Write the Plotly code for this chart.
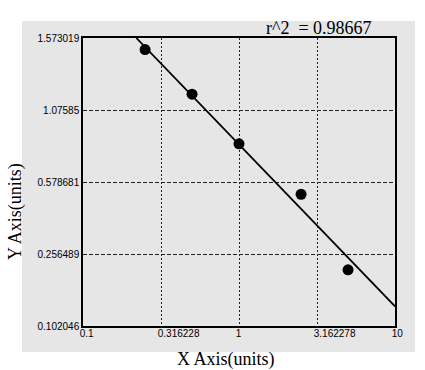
import plotly.graph_objects as go

# Axis ticks
x_tick_vals = [0.1, 0.316228, 1, 3.162278, 10]
x_tick_text = ["0.1", "0.316228", "1", "3.162278", "10"]
y_tick_pos = [0, 1, 2, 3, 4]
y_tick_text = ["0.102046", "0.256489", "0.578681", "1.07585", "1.573019"]

# Data points (y in tick-position units of the transformed axis)
x_data = [0.25, 0.5, 1, 2.5, 5]
y_data = [3.84, 3.22, 2.53, 1.83, 0.78]

# Fitted line endpoints
fit_x = [0.2197, 10]
fit_y = [4.0, 0.272]

r2_text = "r^2  = 0.98667"

fig = go.Figure()
fig.add_trace(go.Scatter(x=fit_x, y=fit_y, mode="lines",
                         line=dict(color="black", width=1.8), hoverinfo="skip"))
fig.add_trace(go.Scatter(x=x_data, y=y_data, mode="markers",
                         marker=dict(color="black", size=11)))

fig.update_layout(
    width=425, height=370,
    margin=dict(l=83, r=30, t=38, b=44, pad=0),
    paper_bgcolor="white",
    plot_bgcolor="#e6e6e6",
    showlegend=False,
    shapes=[dict(type="rect", xref="paper", yref="paper",
                 x0=-0.1955, x1=1.0641, y0=-0.0903, y1=1.059,
                 fillcolor="#e6e6e6", line=dict(width=0), layer="below")],
    annotations=[
        dict(text=r2_text, xref="paper", yref="paper", x=0.933, y=1.035,
             xanchor="right", yanchor="middle", showarrow=False,
             font=dict(family="Liberation Serif", size=18, color="black")),
        dict(text="X Axis(units)", xref="paper", yref="paper", x=0.458, y=-0.118,
             xanchor="center", yanchor="middle", showarrow=False,
             font=dict(family="Liberation Serif", size=18, color="black")),
        dict(text="Y Axis(units)", xref="paper", yref="paper", x=-0.218, y=0.399,
             xanchor="center", yanchor="middle", showarrow=False, textangle=-90,
             font=dict(family="Liberation Serif", size=18, color="black")),
    ],
)

fig.update_xaxes(type="log", range=[-1, 1], tickvals=x_tick_vals, ticktext=x_tick_text,
                 showline=True, mirror=True, linecolor="black", linewidth=1.5,
                 showgrid=True, gridcolor="#222222", griddash="2px,2px", gridwidth=1,
                 zeroline=False, ticks="", ticklabelposition="outside right",
                 ticklabelshift=-4, ticklabelstandoff=-3,
                 tickfont=dict(family="Liberation Sans", size=10, color="black"))
fig.update_yaxes(range=[0, 4], tickvals=y_tick_pos, ticktext=y_tick_text,
                 showline=True, mirror=True, linecolor="black", linewidth=1.5,
                 showgrid=True, gridcolor="#222222", griddash="4px,2px", gridwidth=1,
                 zeroline=False, ticks="",
                 tickfont=dict(family="Liberation Sans", size=10, color="black"))

fig.write_html("out.html")
